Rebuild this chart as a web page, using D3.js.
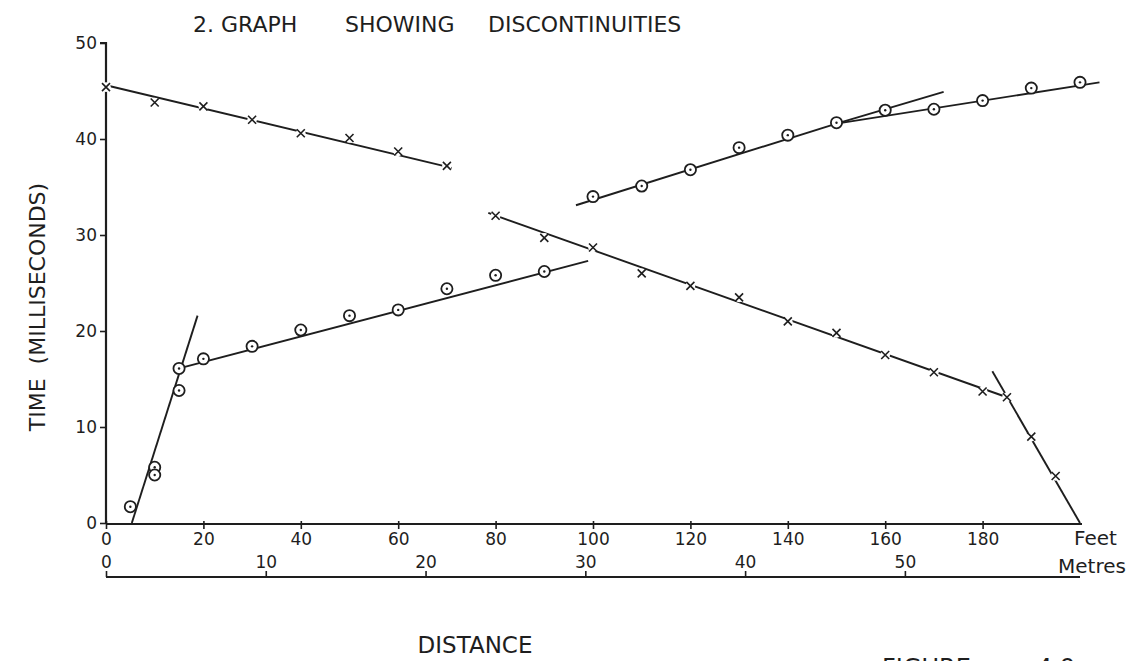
<!DOCTYPE html>
<html>
<head>
<meta charset="utf-8">
<script src="https://cdn.jsdelivr.net/npm/d3@7"></script>
<style>
	body{margin:0;background:#fff;}
	text{font-family:"DejaVu Sans",sans-serif;fill:#1e1e1e;}
</style>
</head>
<body>
<svg id="chart" width="1134" height="661"></svg>
<script>
//数据 (feet, milliseconds)
var crossFeet1 = [0,10,20,30,40,50,60,70];
var crossTime1 = [45.4,43.8,43.4,42.0,40.6,40.1,38.7,37.2];
var crossFeet2 = [80,90,100,110,120,130,140,150,160,170,180,185,190,195];
var crossTime2 = [32.0,29.7,28.7,26.0,24.7,23.5,21.0,19.8,17.5,15.7,13.7,13.1,9.0,4.9];
var circleFeet1 = [5,10,10,15,15,20,30,40,50,60,70,80,90];
var circleTime1 = [1.7,5.8,5.0,13.8,16.1,17.1,18.4,20.1,21.6,22.2,24.4,25.8,26.2];
var circleFeet2 = [100,110,120,130,140,150,160,170,180,190,200];
var circleTime2 = [34.0,35.1,36.8,39.1,40.4,41.7,43.0,43.1,44.0,45.3,45.9];
//fitted lines: [feet1, time1, feet2, time2]
var fitLines = [
	[0,45.6,71,37.0],
	[78.5,32.3,185,13.1],
	[182,15.8,200,0],
	[5.3,0,18.8,21.6],
	[15,16.1,99,27.3],
	[96.5,33.1,150,41.6],
	[150,41.6,172,44.9],
	[150,41.6,204,45.9]
];
var feetTicks = [0,20,40,60,80,100,120,140,160,180];
var metreTicks = [0,10,20,30,40,50];
var timeTicks = [0,10,20,30,40,50];

var s = d3.select("#chart");

//比例尺
var x = d3.scaleLinear().domain([0,200]).range([106,1080]);
var xm = d3.scaleLinear().domain([0,200*0.3048]).range([106,1080]);
var y = d3.scaleLinear().domain([0,50]).range([523,43]);

//y axis
var yAxis = d3.axisLeft(y).tickValues(timeTicks).tickSize(6).tickPadding(3);
var gy = s.append("g").attr("transform","translate(106,0)").call(yAxis);
gy.select(".domain").attr("stroke","#1e1e1e").attr("stroke-width",2.2).attr("d","M-6,43H0V523");
gy.selectAll(".tick line").attr("stroke","#1e1e1e").attr("stroke-width",1.6);
gy.selectAll(".tick text").style("font-size","17px").attr("fill","#1e1e1e");

//feet axis
var xAxis = d3.axisBottom(x).tickValues(feetTicks).tickSize(5).tickPadding(4);
var gx = s.append("g").attr("transform","translate(0,524)").call(xAxis);
gx.select(".domain").attr("stroke","#1e1e1e").attr("stroke-width",2.2).attr("d","M106,0H1082");
gx.selectAll(".tick line").attr("stroke","#1e1e1e").attr("stroke-width",1.6).attr("y1",-3);
gx.selectAll(".tick text").style("font-size","17px").attr("fill","#1e1e1e");

//metres axis
var mAxis = d3.axisTop(xm).tickValues(metreTicks).tickSize(6).tickPadding(3);
var gm = s.append("g").attr("transform","translate(0,577)").call(mAxis);
gm.select(".domain").attr("stroke","#1e1e1e").attr("stroke-width",2.2).attr("d","M106,0H1080");
gm.selectAll(".tick line").attr("stroke","#1e1e1e").attr("stroke-width",1.6);
gm.selectAll(".tick text").style("font-size","17px").attr("fill","#1e1e1e");

s.append("text").attr("x",1074).attr("y",545).style("font-size","20px").text("Feet");
s.append("text").attr("x",1058).attr("y",573).style("font-size","20px").text("Metres");

//fit lines
s.selectAll("line.fit")
	.data(fitLines)
	.enter()
	.append("line")
	.attr("class","fit")
	.attr("x1", function(d){ return x(d[0]); })
	.attr("y1", function(d){ return y(d[1]); })
	.attr("x2", function(d){ return x(d[2]); })
	.attr("y2", function(d){ return y(d[3]); })
	.attr("stroke","#1e1e1e")
	.attr("stroke-width",1.9);

//crosses
var crosses = [];
crossFeet1.forEach(function(d,i){ crosses.push([d, crossTime1[i]]); });
crossFeet2.forEach(function(d,i){ crosses.push([d, crossTime2[i]]); });

var gc = s.selectAll("g.cross")
	.data(crosses)
	.enter()
	.append("g")
	.attr("class","cross")
	.attr("transform", function(d){ return "translate("+x(d[0])+","+y(d[1])+")"; });
gc.append("circle").attr("r",4.8).attr("fill","#fff");
gc.append("path")
	.attr("d","M-4,-4L4,4M-4,4L4,-4")
	.attr("stroke","#1e1e1e")
	.attr("stroke-width",1.6);

//circles
var circles = [];
circleFeet1.forEach(function(d,i){ circles.push([d, circleTime1[i]]); });
circleFeet2.forEach(function(d,i){ circles.push([d, circleTime2[i]]); });

var go = s.selectAll("g.circ")
	.data(circles)
	.enter()
	.append("g")
	.attr("class","circ")
	.attr("transform", function(d){ return "translate("+x(d[0])+","+y(d[1])+")"; });
go.append("circle").attr("r",5.6).attr("fill","#fff").attr("stroke","#1e1e1e").attr("stroke-width",1.8);
go.append("circle").attr("r",1.2).attr("fill","#1e1e1e");

//titles
s.append("text").attr("x",193).attr("y",32).style("font-size","22px").text("2. GRAPH");
s.append("text").attr("x",345).attr("y",32).style("font-size","22px").text("SHOWING");
s.append("text").attr("x",488).attr("y",32).style("font-size","22px").text("DISCONTINUITIES");

s.append("text")
	.attr("transform","translate(45,307) rotate(-90)")
	.style("text-anchor","middle")
	.style("font-size","22px")
	.attr("xml:space","preserve")
	.text("TIME  (MILLISECONDS)");

s.append("text").attr("x",475).attr("y",653).style("text-anchor","middle").style("font-size","23px").text("DISTANCE");

//partly cut by the bottom edge, as in the scan
s.append("text").attr("x",882).attr("y",676).style("font-size","24px").text("FIGURE");
s.append("text").attr("x",1037).attr("y",676).style("font-size","24px").text("4.9");
</script>
</body>
</html>
